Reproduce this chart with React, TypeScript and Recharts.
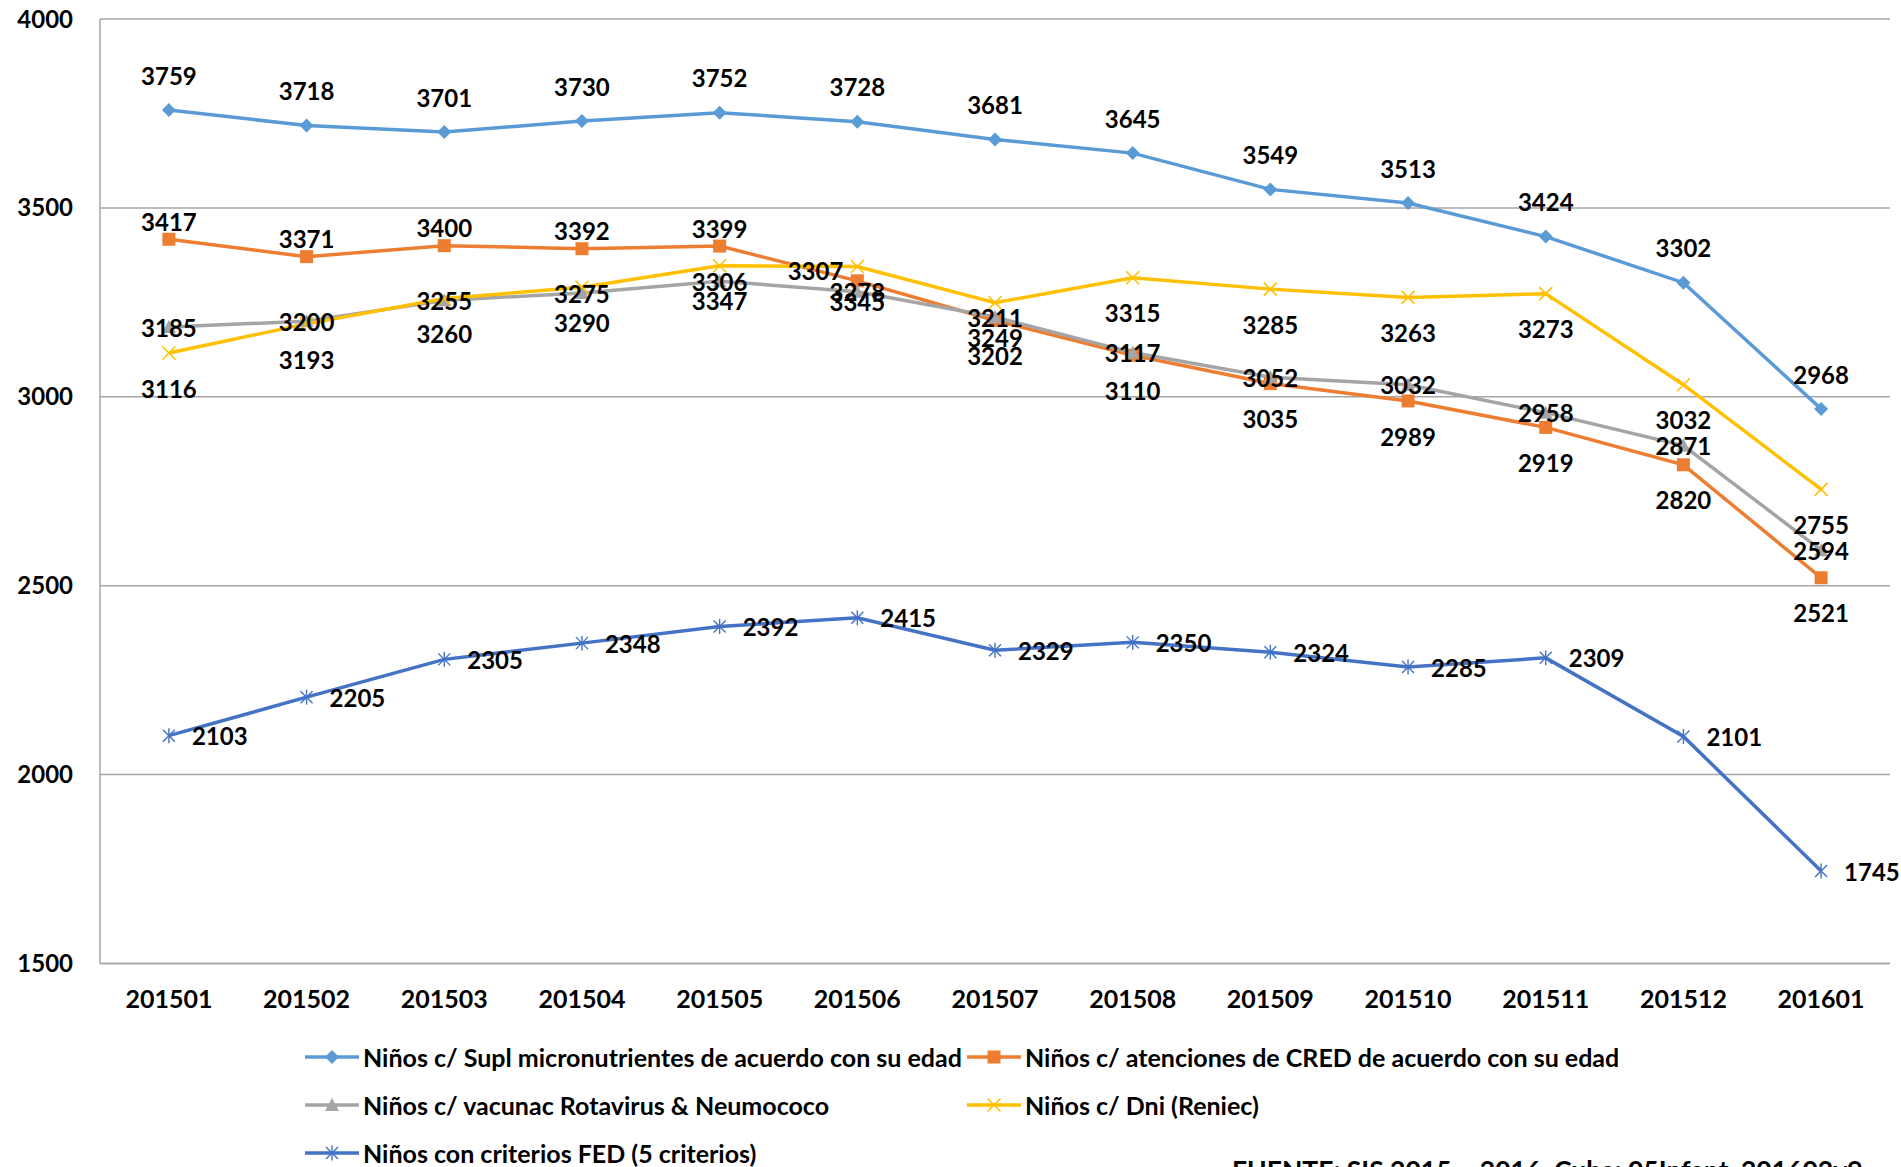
import React from 'react';
import { LineChart, Line, XAxis, YAxis, CartesianGrid, LabelList } from 'recharts';

const months = [
  '201501', '201502', '201503', '201504', '201505', '201506', '201507',
  '201508', '201509', '201510', '201511', '201512', '201601',
];
const suplMicro = [3759, 3718, 3701, 3730, 3752, 3728, 3681, 3645, 3549, 3513, 3424, 3302, 2968];
const atencCred = [3417, 3371, 3400, 3392, 3399, 3307, 3202, 3110, 3035, 2989, 2919, 2820, 2521];
const vacunac = [3185, 3200, 3255, 3275, 3306, 3278, 3211, 3117, 3052, 3032, 2958, 2871, 2594];
const dniReniec = [3116, 3193, 3260, 3290, 3347, 3345, 3249, 3315, 3285, 3263, 3273, 3032, 2755];
const criteriosFed = [2103, 2205, 2305, 2348, 2392, 2415, 2329, 2350, 2324, 2285, 2309, 2101, 1745];
const yTicks = [1500, 2000, 2500, 3000, 3500, 4000];

const data = months.map((m, i) => ({
  month: m,
  supl: suplMicro[i],
  cred: atencCred[i],
  vac: vacunac[i],
  dni: dniReniec[i],
  fed: criteriosFed[i],
}));

const FONT = 'Lato, "Open Sans", sans-serif';

type Shape = 'diamond' | 'square' | 'triangle' | 'x' | 'star';

function marker(shape: Shape, color: string, cx: number, cy: number, key?: any) {
  switch (shape) {
    case 'diamond':
      return <polygon key={key} points={`${cx},${cy - 7} ${cx + 7},${cy} ${cx},${cy + 7} ${cx - 7},${cy}`} fill={color} />;
    case 'square':
      return <rect key={key} x={cx - 6.5} y={cy - 6.5} width={13} height={13} fill={color} />;
    case 'triangle':
      return <polygon key={key} points={`${cx},${cy - 7} ${cx + 7},${cy + 6} ${cx - 7},${cy + 6}`} fill={color} />;
    case 'x':
      return (
        <g key={key} stroke={color} strokeWidth={1.6}>
          <line x1={cx - 6.5} y1={cy - 6.5} x2={cx + 6.5} y2={cy + 6.5} />
          <line x1={cx - 6.5} y1={cy + 6.5} x2={cx + 6.5} y2={cy - 6.5} />
        </g>
      );
    default:
      return (
        <g key={key} stroke={color} strokeWidth={1.4}>
          <line x1={cx - 6} y1={cy - 6} x2={cx + 6} y2={cy + 6} />
          <line x1={cx - 6} y1={cy + 6} x2={cx + 6} y2={cy - 6} />
          <line x1={cx} y1={cy - 7.5} x2={cx} y2={cy + 7.5} />
        </g>
      );
  }
}

type Place = { dx: number; dy: number; anchor: 'start' | 'middle' | 'end' };

const series: Array<{
  key: string;
  name: string;
  color: string;
  shape: Shape;
  place: (i: number) => Place;
}> = [
  {
    key: 'supl',
    name: 'Niños c/ Supl micronutrientes de acuerdo con su edad',
    color: '#5B9BD5',
    shape: 'diamond',
    place: () => ({ dx: 0, dy: -34, anchor: 'middle' }),
  },
  {
    key: 'cred',
    name: 'Niños c/ atenciones de CRED de acuerdo con su edad',
    color: '#ED7D31',
    shape: 'square',
    place: (i) =>
      i < 5
        ? { dx: 0, dy: -17, anchor: 'middle' }
        : i === 5
        ? { dx: -14, dy: -9, anchor: 'end' }
        : { dx: 0, dy: 36, anchor: 'middle' },
  },
  {
    key: 'vac',
    name: 'Niños c/ vacunac Rotavirus & Neumococo',
    color: '#A5A5A5',
    shape: 'triangle',
    place: () => ({ dx: 0, dy: 1, anchor: 'middle' }),
  },
  {
    key: 'dni',
    name: 'Niños c/ Dni (Reniec)',
    color: '#FFC000',
    shape: 'x',
    place: () => ({ dx: 0, dy: 36, anchor: 'middle' }),
  },
  {
    key: 'fed',
    name: 'Niños con criterios FED (5 criterios)',
    color: '#4472C4',
    shape: 'star',
    place: () => ({ dx: 23, dy: 1, anchor: 'start' }),
  },
];

const legendSlots = [
  { left: 305, top: 1057 },
  { left: 967, top: 1057 },
  { left: 305, top: 1105 },
  { left: 967, top: 1105 },
  { left: 305, top: 1153 },
];

export default function App() {
  return (
    <div style={{ position: 'absolute', left: 0, top: 0, width: 1901, height: 1167, overflow: 'hidden', background: '#fff' }}>
      <LineChart width={1901} height={1167} data={data} margin={{ top: 19, right: 11, left: 0, bottom: 163.5 }}>
        <CartesianGrid vertical={false} stroke="#A6A6A6" strokeWidth={1.5} />
        <XAxis
          dataKey="month"
          height={40}
          interval={0}
          padding={{ left: 68.9, right: 68.9 }}
          tickSize={0}
          tickMargin={26.5}
          axisLine={{ stroke: '#A6A6A6', strokeWidth: 1.5 }}
          tick={{ fill: '#000', fontSize: 25, fontWeight: 700, fontFamily: FONT }}
        />
        <YAxis
          width={100}
          domain={[1500, 4000]}
          ticks={yTicks}
          tickSize={0}
          tickMargin={27}
          axisLine={{ stroke: '#A6A6A6', strokeWidth: 1.5 }}
          tick={{ fill: '#000', fontSize: 24, fontWeight: 700, fontFamily: FONT }}
        />
        {series.map((s) => (
          <Line
            key={s.key}
            dataKey={s.key}
            name={s.name}
            stroke={s.color}
            strokeWidth={3.5}
            isAnimationActive={false}
            dot={(p: any) => marker(s.shape, s.color, p.cx, p.cy, `${s.key}-${p.index}`)}
            activeDot={false}
          >
            <LabelList
              dataKey={s.key}
              content={(p: any) => {
                const pl = s.place(p.index);
                return (
                  <text
                    x={p.x + pl.dx}
                    y={p.y + pl.dy}
                    dy="0.36em"
                    textAnchor={pl.anchor}
                    fill="#000"
                    fontSize={24}
                    fontWeight={700}
                    fontFamily={FONT}
                  >
                    {p.value}
                  </text>
                );
              }}
            />
          </Line>
        ))}
      </LineChart>

      {series.map((s, i) => (
        <div
          key={s.key}
          style={{
            position: 'absolute',
            left: legendSlots[i].left,
            top: legendSlots[i].top - 15,
            height: 30,
            display: 'flex',
            alignItems: 'center',
            fontFamily: FONT,
            fontWeight: 700,
            fontSize: 25,
            whiteSpace: 'nowrap',
            color: '#000',
          }}
        >
          <svg width={58} height={30} style={{ flex: 'none' }}>
            <line x1={0} y1={15} x2={54} y2={15} stroke={s.color} strokeWidth={3.5} />
            {marker(s.shape, s.color, 27, 15)}
          </svg>
          <span>{s.name}</span>
        </div>
      ))}

      <div
        style={{
          position: 'absolute',
          left: 1232,
          top: 1156.5,
          fontFamily: FONT,
          fontWeight: 700,
          fontSize: 26.5,
          lineHeight: 1,
          whiteSpace: 'nowrap',
          color: '#000',
        }}
      >
        FUENTE: SIS 2015 – 2016, Cuba: 05Infant_201602v9
      </div>
    </div>
  );
}
